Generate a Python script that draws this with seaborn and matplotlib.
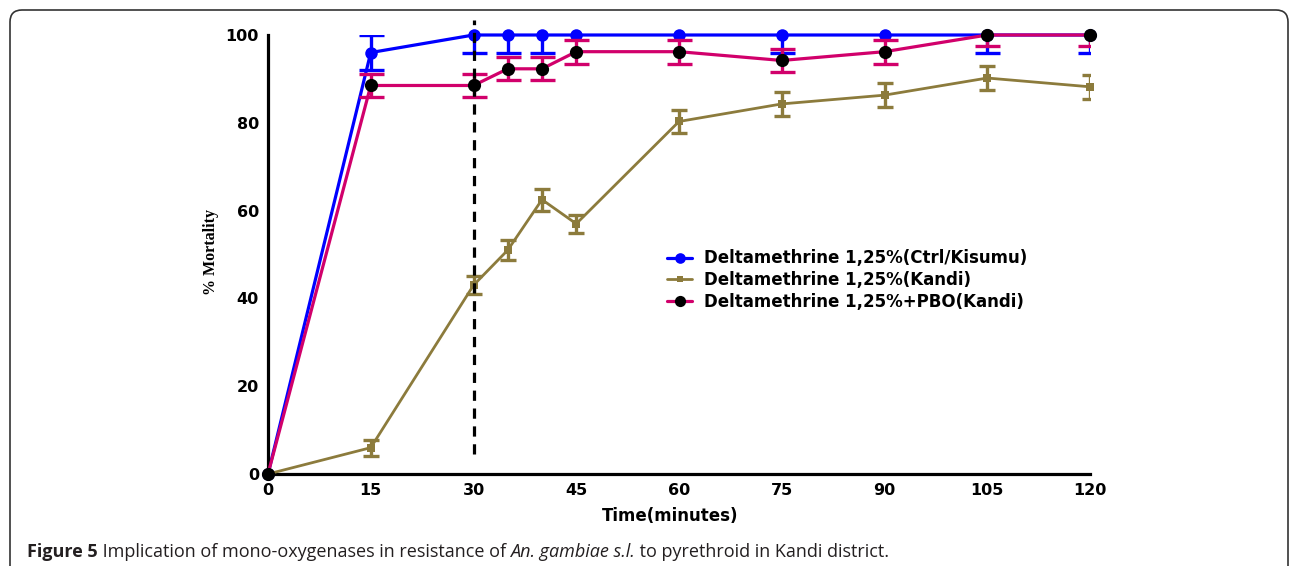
import numpy as np
import pandas as pd
import matplotlib
matplotlib.use("Agg")
import matplotlib.pyplot as plt
import seaborn as sns
from matplotlib.lines import Line2D
from matplotlib.patches import FancyBboxPatch
from matplotlib.transforms import IdentityTransform

# ---------------- data ----------------
time_min = [0, 15, 30, 35, 40, 45, 60, 75, 90, 105, 120]
ctrl_kisumu = [0, 96.0, 100, 100, 100, 100, 100, 100, 100, 100, 100]
ctrl_err = [0, 4.0, 4.0, 4.0, 4.0, 0, 0, 4.0, 0, 4.0, 4.0]
kandi = [0, 6.0, 43.0, 51.0, 62.5, 57.0, 80.3, 84.3, 86.3, 90.2, 88.2]
kandi_err = [0, 1.8, 2.0, 2.2, 2.5, 2.0, 2.6, 2.8, 2.8, 2.8, 2.7]
kandi_pbo = [0, 88.5, 88.5, 92.3, 92.3, 96.2, 96.2, 94.2, 96.2, 100, 100]
pbo_err = [0, 2.7, 2.7, 2.6, 2.6, 2.7, 2.7, 2.6, 2.7, 2.5, 2.5]

labels = ["Deltamethrine 1,25%(Ctrl/Kisumu)",
          "Deltamethrine 1,25%(Kandi)",
          "Deltamethrine 1,25%+PBO(Kandi)"]
x_ticks = [0, 15, 30, 45, 60, 75, 90, 105, 120]
y_ticks = [0, 20, 40, 60, 80, 100]
exposure_mark = 30
caption_parts = [("Figure 5", "bold", "normal"),
                 (" Implication of mono-oxygenases in resistance of ", "normal", "normal"),
                 ("An. gambiae s.l.", "normal", "italic"),
                 (" to pyrethroid in Kandi district.", "normal", "normal")]

BLUE = "#0000ff"
OLIVE = "#8c7b3c"
PINK = "#d1006b"

sns.set_theme(style="white")
plt.rcParams["font.family"] = ["DejaVu Sans"]

W, H = 1290, 566
fig = plt.figure(figsize=(W / 100, H / 100), dpi=100)
ax = fig.add_axes([268 / W, 1 - 474 / H, (1090 - 268) / W, (474 - 35) / H])

df = pd.DataFrame({"time": time_min * 3,
                   "mortality": ctrl_kisumu + kandi + kandi_pbo,
                   "series": [labels[0]] * len(time_min) + [labels[1]] * len(time_min)
                   + [labels[2]] * len(time_min)})

styles = {
    labels[0]: dict(color=BLUE, marker="o", ms=9, mfc=BLUE, mec=BLUE, lw=2.3, cap=9, err=ctrl_err, ecol=BLUE),
    labels[1]: dict(color=OLIVE, marker="s", ms=5.5, mfc=OLIVE, mec=OLIVE, lw=2.0, cap=6, err=kandi_err, ecol=OLIVE),
    labels[2]: dict(color=PINK, marker="o", ms=9.5, mfc="black", mec="black", lw=2.3, cap=9, err=pbo_err, ecol=PINK),
}

for i, lab in enumerate(labels):
    st = styles[lab]
    sub = df[df["series"] == lab]
    t = np.array(sub["time"])
    yv = np.array(sub["mortality"])
    e = np.array(st["err"], dtype=float)
    m = e > 0
    ax.errorbar(t[m], yv[m], yerr=e[m], fmt="none", ecolor=st["ecol"], elinewidth=2.4,
                capsize=st["cap"], capthick=2.4, zorder=2 + i)
    sns.lineplot(data=sub, x="time", y="mortality", ax=ax, color=st["color"], lw=st["lw"],
                 marker=st["marker"], markersize=st["ms"], markerfacecolor=st["mfc"],
                 markeredgecolor=st["mec"], markeredgewidth=0, legend=False,
                 errorbar=None, clip_on=False, zorder=2.5 + i)

ax.plot([exposure_mark, exposure_mark], [4.5, 103.5], color="black", lw=2.3,
        ls=(0, (3.2, 2.4)), clip_on=False, zorder=10)

ax.set_xlim(0, 120)
ax.set_ylim(0, 100)
ax.set_xticks(x_ticks)
ax.set_yticks(y_ticks)
for s in ["top", "right"]:
    ax.spines[s].set_visible(False)
for s in ["left", "bottom"]:
    ax.spines[s].set_linewidth(2.3)
    ax.spines[s].set_color("black")
ax.tick_params(axis="both", direction="out", length=4.5, width=2.0, color="black",
               labelsize=11.5, pad=2, labelcolor="black")
for lbl in ax.get_xticklabels() + ax.get_yticklabels():
    lbl.set_fontweight("bold")

ax.set_xlabel("Time(minutes)", fontsize=12, fontweight="bold", color="black", va="top")
ax.xaxis.set_label_coords((670 - 268) / 822, -(507 - 474) / 439)
ax.set_ylabel("% Mortality", fontsize=11.5, fontweight="bold", color="black",
              family=["Liberation Serif", "DejaVu Serif"])
ax.yaxis.set_label_coords((219 - 268) / 822, (474 - 252) / 439)

handles = []
for lab in labels:
    st = styles[lab]
    handles.append(Line2D([], [], color=st["color"], lw=st["lw"], marker=st["marker"],
                          ms=st["ms"] * 0.85, mfc=st["mfc"], mec=st["mec"], mew=0))
leg = ax.legend(handles, labels, loc="center left", bbox_to_anchor=(667 / W, 1 - 280 / H),
                bbox_transform=fig.transFigure, frameon=False, borderpad=0, borderaxespad=0,
                handlelength=1.5, handletextpad=0.7, labelspacing=0.22,
                prop={"weight": "bold", "size": 12})
for txt in leg.get_texts():
    txt.set_color("black")

# border frame
frame = FancyBboxPatch((10, -30), 1278, 556 + 30, boxstyle="round,pad=0,rounding_size=12",
                       transform=IdentityTransform(), fill=False, edgecolor="#333333",
                       lw=1.2, figure=fig)
fig.patches.append(frame)

# caption
renderer = fig.canvas.get_renderer()
xpos = 27
for txt, wt, stl in caption_parts:
    tt = fig.text(xpos / W, 9 / H, txt, fontsize=13, fontweight=wt, fontstyle=stl,
                  family=["Open Sans", "DejaVu Sans"], color="#231f20", va="baseline", ha="left")
    bb = tt.get_window_extent(renderer=renderer)
    xpos = bb.x1

fig.savefig("out.png", dpi=100)
